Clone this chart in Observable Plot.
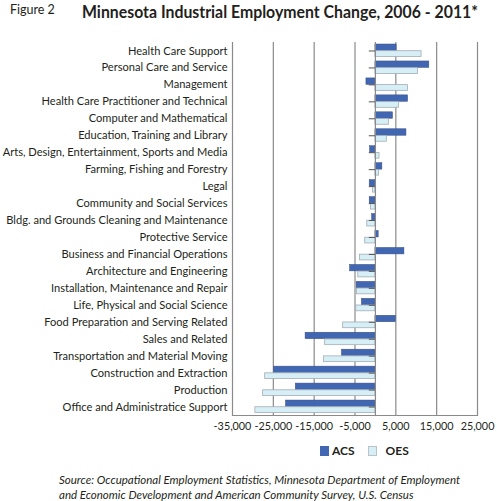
<!DOCTYPE html>
<html>
<head>
<meta charset="utf-8">
<script src="https://cdn.jsdelivr.net/npm/d3@7"></script>
<script src="https://cdn.jsdelivr.net/npm/@observablehq/plot@0.6"></script>
<style>
  html, body { margin: 0; padding: 0; background: #fff; }
  body { width: 497px; height: 501px; position: relative; overflow: hidden; font-family: Lato, "Open Sans", sans-serif; color: #231f20; }
  .abs { position: absolute; white-space: nowrap; }
  #fig { left: 10px; top: 2px; font-size: 12.5px; line-height: 16px; }
  #title { left: 80px; top: 0px; overflow: visible; }
  #chart { left: 0; top: 0; width: 497px; }
  #legend { left: 320px; top: 444px; font-size: 12px; font-weight: bold; line-height: 14px; display: flex; align-items: center; }
  .sw { display: inline-block; width: 9px; height: 10px; margin-right: 2px; box-sizing: border-box; }
  #caption { left: 59px; top: 473px; font-size: 11.5px; font-style: italic; line-height: 14.5px; }
</style>
</head>
<body>
<div id="chart" class="abs"></div>
<div id="fig" class="abs">Figure 2</div>
<svg id="title" class="abs" width="417" height="30"><text x="2" y="18" textLength="396" lengthAdjust="spacingAndGlyphs" font-family="Lato, sans-serif" font-weight="bold" font-size="16.5" fill="#231f20">Minnesota Industrial Employment Change, 2006 - 2011*</text></svg>
<div id="legend" class="abs"></div>
<div id="caption" class="abs">Source: Occupational Employment Statistics, Minnesota Department of Employment<br>and Economic Development and American Community Survey, U.S. Census</div>
<script>
const categories = [
  "Health Care Support",
  "Personal Care and Service",
  "Management",
  "Health Care Practitioner and Technical",
  "Computer and Mathematical",
  "Education, Training and Library",
  "Arts, Design, Entertainment, Sports and Media",
  "Farming, Fishing and Forestry",
  "Legal",
  "Community and Social Services",
  "Bldg. and Grounds Cleaning and Maintenance",
  "Protective Service",
  "Business and Financial Operations",
  "Architecture and Engineering",
  "Installation, Maintenance and Repair",
  "Life, Physical and Social Science",
  "Food Preparation and Serving Related",
  "Sales and Related",
  "Transportation and Material Moving",
  "Construction and Extraction",
  "Production",
  "Office and Administratice Support"
];
const acsValues = [5200, 13200, -2200, 8000, 4300, 7600, -1300, 1700, -1400, -1400, -800, 800, 7100, -6200, -4600, -3300, 5000, -17100, -8200, -24800, -19500, -21900];
const oesValues = [11300, 10400, 8000, 5800, 3300, 2800, 1000, 900, -600, -1100, -2000, -2500, -3800, -4200, -4500, -4700, -7900, -12300, -12600, -27000, -27500, -29400];
const seriesNames = ["ACS", "OES"];
const xTicks = [-35000, -25000, -15000, -5000, 5000, 15000, 25000];
const seriesColors = ["#4166b2", "#d6eef5"];

const acsData = categories.map((c, i) => ({category: c, value: acsValues[i]}));
const oesData = categories.map((c, i) => ({category: c, value: oesValues[i]}));

const chart = Plot.plot({
  width: 497,
  height: 440,
  marginTop: 42,
  marginBottom: 25,
  marginLeft: 232,
  marginRight: 20,
  style: {fontFamily: "Lato, sans-serif", fontSize: "11px", color: "#231f20", background: "transparent"},
  x: {domain: [-35000, 25000], ticks: xTicks, tickFormat: d => d.toLocaleString("en-US"), tickSize: 0, tickPadding: 7, label: null},
  y: {domain: categories, padding: 0, round: false, tickSize: 0, tickPadding: 5, label: null},
  marks: [
    Plot.gridX(xTicks, {stroke: "#8a8a8a", strokeOpacity: 1, strokeWidth: 1.2}),
    Plot.barX(acsData, {x1: () => 0, x2: "value", y: "category", fill: seriesColors[0], stroke: "#3a4f80", strokeWidth: 0.5, insetTop: 2, insetBottom: 8.5}),
    Plot.barX(oesData, {x1: () => 0, x2: "value", y: "category", fill: seriesColors[1], stroke: "#a3acb4", strokeWidth: 0.8, insetTop: 8.7, insetBottom: 2.5}),
    Plot.ruleX([0], {stroke: "#8a8a8a", strokeWidth: 1.2}),
    Plot.ruleY(categories, {y: d => d, x1: () => -1500, x2: () => 0, stroke: "#555", strokeWidth: 1}),
    Plot.frame({anchor: "bottom", stroke: "#8a8a8a", strokeWidth: 1.2}),
    Plot.axisY({tickSize: 0, tickPadding: 5, fontSize: 11.1}),
    Plot.axisX({ticks: xTicks, tickFormat: d => d.toLocaleString("en-US"), tickSize: 0, tickPadding: 7, fontSize: 10.8})
  ]
});
document.getElementById("chart").appendChild(chart);

const legend = document.getElementById("legend");
seriesNames.forEach((name, i) => {
  const item = document.createElement("span");
  item.style.display = "inline-flex";
  item.style.alignItems = "center";
  item.style.marginRight = i === 0 ? "13px" : "0";
  const sw = document.createElement("span");
  sw.className = "sw";
  sw.style.background = seriesColors[i];
  if (i === 1) sw.style.border = "1px solid #b9c3ca";
  item.appendChild(sw);
  const t = document.createElement("span");
  t.textContent = " " + name;
  t.style.marginLeft = i === 0 ? "1px" : "7px";
  item.appendChild(t);
  legend.appendChild(item);
});
</script>
</body>
</html>
